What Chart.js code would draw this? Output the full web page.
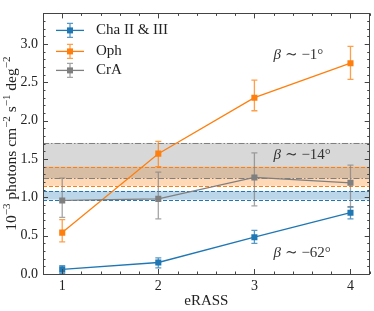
<!DOCTYPE html>
<html><head><meta charset="utf-8">
<script src="https://cdn.jsdelivr.net/npm/chart.js@4/dist/chart.umd.min.js"></script>
<style>html,body{margin:0;padding:0;background:#fff}#wrap{width:374px;height:311px}</style>
</head><body><div id="wrap"><canvas id="c" width="374" height="311"></canvas></div>
<script>
const categories = [1, 2, 3, 4];
const seriesNames = ["Cha II & III", "Oph", "CrA"];
const chaY = [0.06, 0.15, 0.48, 0.80];
const chaErrLo = [0.05, 0.07, 0.08, 0.08];
const chaErrHi = [0.05, 0.06, 0.09, 0.08];
const ophY = [0.54, 1.57, 2.30, 2.75];
const ophErrLo = [0.12, 0.17, 0.17, 0.21];
const ophErrHi = [0.17, 0.16, 0.23, 0.22];
const craY = [0.96, 0.98, 1.26, 1.19];
const craErrLo = [0.22, 0.26, 0.37, 0.32];
const craErrHi = [0.29, 0.35, 0.32, 0.23];
const bandLow = [0.97, 1.15, 1.25];
const bandHigh = [1.08, 1.40, 1.71];
const xTickLabels = [1, 2, 3, 4];
const yTickLabels = [0.0, 0.5, 1.0, 1.5, 2.0, 2.5, 3.0];
const annX = [3.2, 3.2, 3.2];
const annY = [2.86, 1.55, 0.27];
const annText = ["−1°", "−14°", "−62°"];
const xTitle = "eRASS";

const colors = ["#1f77b4", "#ff7f0e", "#7f7f7f"];
const errColors = ["rgba(31,119,180,0.75)", "rgba(255,127,14,0.75)", "rgba(127,127,127,0.7)"];
const bandFill = ["rgba(31,119,180,0.3)", "rgba(255,127,14,0.3)", "rgba(127,127,127,0.3)"];
const bandDash = [[4, 2], [4, 2], [6, 2, 1.5, 2]];
const FONT = "'Liberation Serif', 'DejaVu Serif', serif";
const ys = [chaY, ophY, craY], lo = [chaErrLo, ophErrLo, craErrLo], hi = [chaErrHi, ophErrHi, craErrHi];

const datasets = seriesNames.map((n, i) => ({
  label: n,
  data: categories.map((x, j) => ({x: x, y: ys[i][j]})),
  borderColor: colors[i], backgroundColor: colors[i],
  borderWidth: 1.3, pointStyle: 'rect', pointRadius: 4.3, pointBorderWidth: 0,
  pointHoverRadius: 4.3, order: 3 - i, errLo: lo[i], errHi: hi[i], errColor: errColors[i]
}));

const bandsPlugin = {
  id: 'bands',
  beforeDatasetsDraw(chart) {
    const {ctx, chartArea: a, scales: {y}} = chart;
    ctx.save();
    for (let i = 0; i < bandLow.length; i++) {
      const y1 = y.getPixelForValue(bandHigh[i]), y0 = y.getPixelForValue(bandLow[i]);
      ctx.fillStyle = bandFill[i];
      ctx.fillRect(a.left, y1, a.right - a.left, y0 - y1);
    }
    for (let i = 0; i < bandLow.length; i++) {
      ctx.strokeStyle = colors[i]; ctx.lineWidth = 1.2; ctx.setLineDash(bandDash[i]);
      [bandLow[i], bandHigh[i]].forEach(v => {
        const p = Math.round(y.getPixelForValue(v)) + 0.5;
        ctx.beginPath(); ctx.moveTo(a.left, p); ctx.lineTo(a.right, p); ctx.stroke();
      });
    }
    ctx.restore();
  }
};

const errPlugin = {
  id: 'err',
  beforeDatasetDraw(chart, args) {
    const ds = chart.data.datasets[args.index];
    const {ctx, scales: {x, y}} = chart;
    ctx.save(); ctx.strokeStyle = ds.errColor; ctx.lineWidth = 1.3;
    ds.data.forEach((p, j) => {
      const px = x.getPixelForValue(p.x);
      const t = y.getPixelForValue(p.y + ds.errHi[j]), b = y.getPixelForValue(p.y - ds.errLo[j]);
      ctx.beginPath(); ctx.moveTo(px, t); ctx.lineTo(px, b);
      ctx.moveTo(px - 3, t); ctx.lineTo(px + 3, t);
      ctx.moveTo(px - 3, b); ctx.lineTo(px + 3, b); ctx.stroke();
    });
    ctx.restore();
  }
};

const decoPlugin = {
  id: 'deco',
  afterDatasetsDraw(chart) {
    const {ctx, chartArea: a, scales: {x, y}} = chart;
    ctx.save();
    // annotations
    ctx.fillStyle = '#333'; ctx.textBaseline = 'middle'; ctx.textAlign = 'left';
    for (let i = 0; i < annText.length; i++) {
      let px = x.getPixelForValue(annX[i]); const py = y.getPixelForValue(annY[i]);
      ctx.font = "italic 15px " + FONT; ctx.fillText("β", px, py);
      px += ctx.measureText("β").width + 4;
      ctx.font = "15px " + FONT; ctx.fillText("∼ " + annText[i], px, py);
    }
    // legend
    ctx.font = "15px " + FONT;
    const rows = [17, 38, 57];
    seriesNames.forEach((n, i) => {
      const cy = a.top + rows[i];
      const x0 = a.left + 13, x1 = a.left + 41, xm = a.left + 27;
      ctx.strokeStyle = colors[i]; ctx.lineWidth = 1.3; ctx.setLineDash([]);
      ctx.beginPath(); ctx.moveTo(x0, cy); ctx.lineTo(x1, cy); ctx.stroke();
      ctx.strokeStyle = errColors[i];
      ctx.beginPath(); ctx.moveTo(xm, cy - 7); ctx.lineTo(xm, cy + 7);
      ctx.moveTo(xm - 3, cy - 7); ctx.lineTo(xm + 3, cy - 7);
      ctx.moveTo(xm - 3, cy + 7); ctx.lineTo(xm + 3, cy + 7); ctx.stroke();
      ctx.fillStyle = colors[i]; ctx.fillRect(xm - 3, cy - 3, 6, 6);
      ctx.fillStyle = '#222'; ctx.fillText(n, a.left + 53, cy);
    });
    ctx.restore();
  },
  afterDraw(chart) {
    const {ctx, chartArea: a, scales: {x, y}} = chart;
    ctx.save();
    ctx.strokeStyle = '#444'; ctx.lineWidth = 1;
    ctx.strokeRect(Math.round(a.left) + 0.5, Math.round(a.top) + 0.5, Math.round(a.right - a.left) - 1, Math.round(a.bottom - a.top));
    ctx.beginPath();
    for (let v = 8; v <= 42; v += 2) {
      const p = Math.round(x.getPixelForValue(v / 10)) + 0.5;
      const L = (v % 10 === 0) ? 5 : 2.5;
      ctx.moveTo(p, a.bottom); ctx.lineTo(p, a.bottom - L);
      ctx.moveTo(p, a.top); ctx.lineTo(p, a.top + L);
    }
    for (let v = 0; v <= 34; v += 1) {
      const p = Math.round(y.getPixelForValue(v / 10)) + 0.5;
      const L = (v % 5 === 0) ? 5 : 2.5;
      ctx.moveTo(a.left, p); ctx.lineTo(a.left + L, p);
      ctx.moveTo(a.right, p); ctx.lineTo(a.right - L, p);
    }
    ctx.stroke();
    // y title
    const parts = [["10", 0], ["−3", 1], [" photons cm", 0], ["−2", 1], [" s", 0], ["−1", 1], [" deg", 0], ["−2", 1]];
    const fMain = "15.5px " + FONT, fSup = "11px " + FONT;
    let total = 0;
    parts.forEach(p => { ctx.font = p[1] ? fSup : fMain; total += ctx.measureText(p[0]).width; });
    ctx.translate(16, (a.top + a.bottom) / 2); ctx.rotate(-Math.PI / 2);
    ctx.fillStyle = '#222'; ctx.textBaseline = 'alphabetic'; ctx.textAlign = 'left';
    let cx = -total / 2;
    parts.forEach(p => { ctx.font = p[1] ? fSup : fMain; ctx.fillText(p[0], cx, p[1] ? -6.5 : 0); cx += ctx.measureText(p[0]).width; });
    ctx.restore();
  }
};

new Chart(document.getElementById('c'), {
  type: 'line',
  data: {datasets},
  options: {
    responsive: false, animation: false, devicePixelRatio: 1,
    layout: {padding: {top: 4, right: 3, left: 0, bottom: 0}},
    plugins: {legend: {display: false}, tooltip: {enabled: false}},
    scales: {
      x: {
        type: 'linear', min: 0.8, max: 4.2,
        afterBuildTicks: s => { s.ticks = xTickLabels.map(v => ({value: v})); },
        afterFit: s => { s.height = 37; },
        grid: {display: false, drawTicks: false}, border: {display: false},
        ticks: {padding: 4, color: '#222', font: {family: FONT, size: 14}, callback: v => String(v)},
        title: {display: true, text: xTitle, color: '#222', font: {family: FONT, size: 15}, padding: {top: 0, bottom: 1}}
      },
      y: {
        type: 'linear', min: 0, max: 3.4,
        afterBuildTicks: s => { s.ticks = yTickLabels.map(v => ({value: v})); },
        afterFit: s => { s.width = 43; },
        grid: {display: false, drawTicks: false}, border: {display: false},
        ticks: {padding: 5, color: '#222', font: {family: FONT, size: 14}, callback: v => Number(v).toFixed(1)}
      }
    }
  },
  plugins: [bandsPlugin, errPlugin, decoPlugin]
});
</script></body></html>
